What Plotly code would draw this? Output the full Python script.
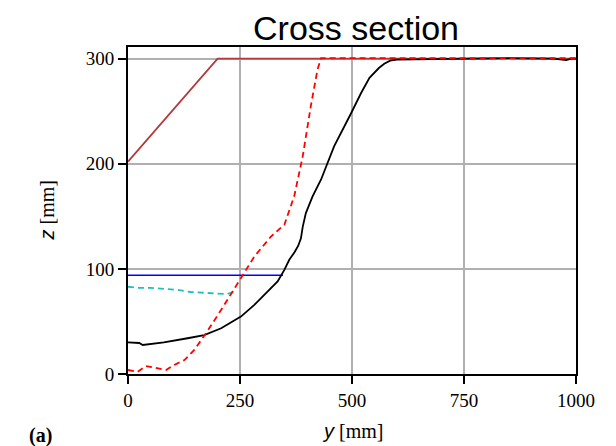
import plotly.graph_objects as go

# Brown (design) profile
brown_y = [0, 200, 1000]
brown_z = [202, 300, 300]

# Blue horizontal line
blue_y = [0, 346]
blue_z = [94, 94]

# Cyan dashed
cyan_y = [0, 20, 50, 80, 110, 140, 170, 200, 220, 237]
cyan_z = [83, 82, 82, 81, 80, 78, 77, 76, 76, 78]

# Black solid measured profile
black_y = [0, 25, 33, 80, 133, 170, 208, 252, 282, 312, 334, 349, 360, 372, 380, 386, 390, 397,
           412, 431, 460, 498, 520, 539, 560, 572, 585, 600, 650, 758, 850, 950, 978, 990, 1000]
black_z = [30, 29.5, 27.6, 30, 34, 37, 43.5, 54.6, 65.7, 78.4, 88, 99, 108.6, 116, 122, 129, 140, 153,
           169, 185, 216.5, 248, 267, 281.6, 291, 295, 298, 299, 299.5, 300, 300.5, 300, 298.5, 300, 300]

# Red dashed profile
red_y = [0, 21, 40, 66, 85, 103, 126, 148, 174, 208, 245, 282, 319, 349, 371, 390, 408, 423, 431, 1000]
red_z = [3.8, 2, 7.6, 5.4, 3.8, 8.6, 13.3, 22.9, 38.7, 61, 86, 111.7, 130.7, 142, 169, 207, 254.6, 289.5, 300.5, 300.5]

x_ticks = [0, 250, 500, 750, 1000]
y_ticks = [0, 100, 200, 300]

fig = go.Figure()
fig.add_trace(go.Scatter(x=brown_y, y=brown_z, mode="lines",
                         line=dict(color="#b23a3a", width=1.8)))
fig.add_trace(go.Scatter(x=blue_y, y=blue_z, mode="lines",
                         line=dict(color="#0000ff", width=1.5)))
fig.add_trace(go.Scatter(x=cyan_y, y=cyan_z, mode="lines",
                         line=dict(color="#1fbfbf", width=1.8, dash="6px,4px")))
fig.add_trace(go.Scatter(x=black_y, y=black_z, mode="lines",
                         line=dict(color="#000000", width=1.8)))
fig.add_trace(go.Scatter(x=red_y, y=red_z, mode="lines",
                         line=dict(color="#ff0000", width=1.8, dash="6px,4px")))

serif = "Liberation Serif"
sans_it = "<span style='font-family:Liberation Sans;font-style:italic'>{}</span> [mm]"
fig.update_layout(
    width=616, height=446,
    margin=dict(l=120, r=48, t=39, b=80),
    paper_bgcolor="white", plot_bgcolor="white",
    showlegend=False,
    title=dict(text="Cross section", x=0.565, xanchor="center", y=0.955, yanchor="middle",
               font=dict(family="Liberation Sans", size=34, color="black")),
    xaxis=dict(range=[0, 1000], tickvals=x_ticks, ticktext=[str(v) for v in x_ticks],
               showgrid=True, gridcolor="#b0b0b0", gridwidth=1.5,
               showline=True, linecolor="black", linewidth=2, mirror=True,
               ticks="outside", ticklen=8, tickwidth=2, tickcolor="black",
               tickfont=dict(family=serif, size=19, color="black"),
               zeroline=False),
    yaxis=dict(range=[0, 311], tickvals=y_ticks, ticktext=[str(v) for v in y_ticks],
               showgrid=True, gridcolor="#b0b0b0", gridwidth=1.5,
               showline=True, linecolor="black", linewidth=2, mirror=True,
               ticks="outside", ticklen=8, tickwidth=2, tickcolor="black",
               tickfont=dict(family=serif, size=19, color="black"),
               zeroline=False),
    annotations=[
        dict(text=sans_it.format("y"), xref="paper", yref="paper", x=0.5, y=-0.174,
             xanchor="center", yanchor="middle", showarrow=False,
             font=dict(family=serif, size=20, color="black")),
        dict(text=sans_it.format("z"), xref="paper", yref="paper", x=-0.183, y=0.5,
             xanchor="center", yanchor="middle", showarrow=False, textangle=-90,
             font=dict(family=serif, size=20, color="black")),
        dict(text="<b>(a)</b>", xref="paper", yref="paper", x=-0.196, y=-0.187,
             xanchor="center", yanchor="middle", showarrow=False,
             font=dict(family=serif, size=20, color="black")),
    ],
)

fig.write_html("out.html")
